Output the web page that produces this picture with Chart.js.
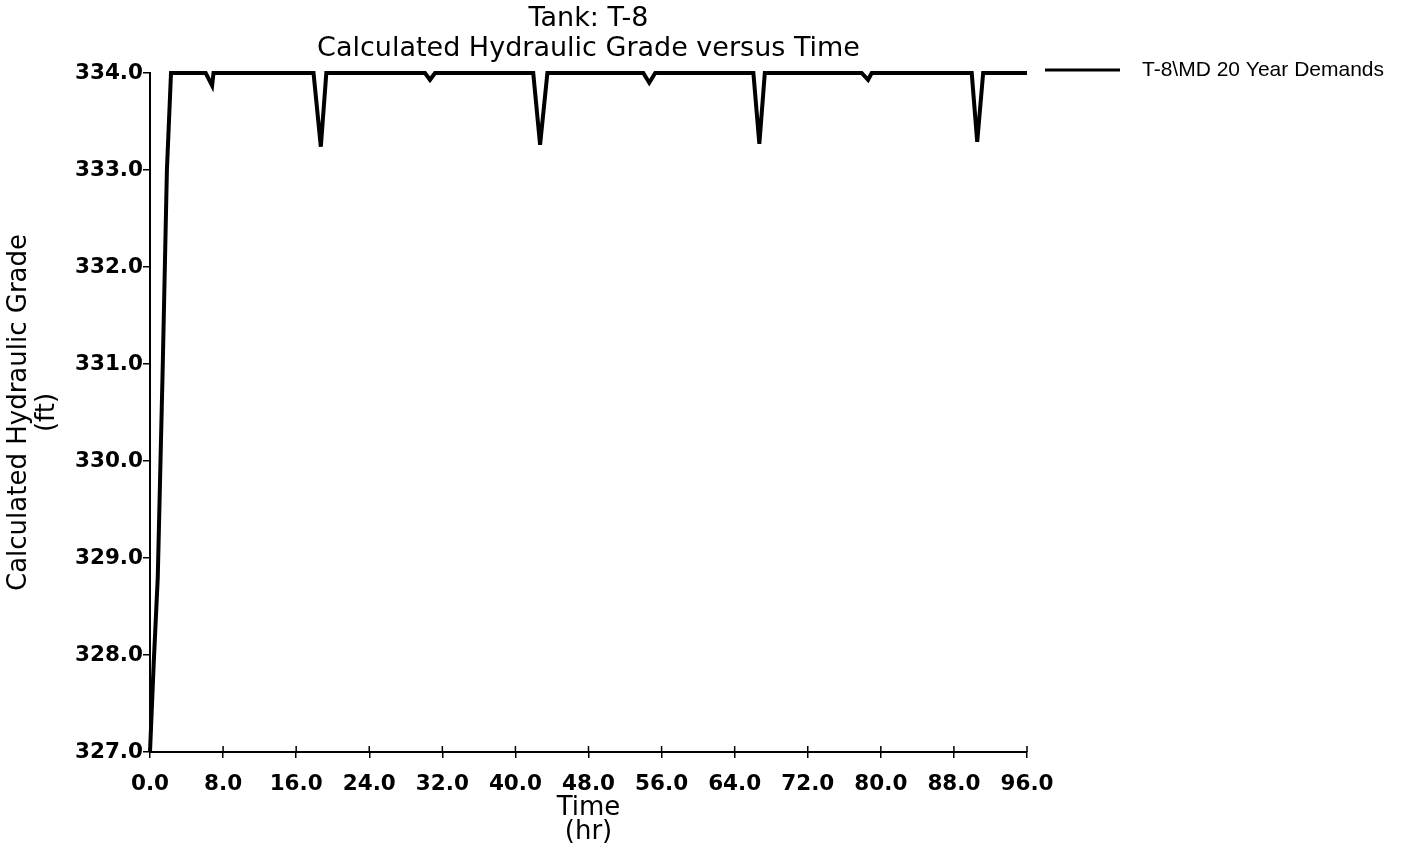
<!DOCTYPE html>
<html>
<head>
<meta charset="utf-8">
<script src="https://cdn.jsdelivr.net/npm/chart.js@4.4.1/dist/chart.umd.min.js"></script>
<style>
  html, body { margin: 0; padding: 0; background: #fff; }
  canvas { display: block; }
</style>
</head>
<body>
<canvas id="grade-chart" width="1417" height="852"></canvas>
<script>
const chartTitle = ['Tank: T-8', 'Calculated Hydraulic Grade versus Time'];
const seriesLabel = 'T-8\\MD 20 Year Demands';
const xTitle = ['Time', '(hr)'];
const yTitle = ['Calculated Hydraulic Grade', '(ft)'];

// time (hr) and hydraulic grade (ft) for the tank
const hours = [0.0, 0.4, 0.85, 1.4, 1.85, 2.3,
    6.1, 6.8, 6.95,
    17.9, 18.7, 19.3,
    30.1, 30.65, 31.2,
    41.95, 42.7, 43.5,
    54.0, 54.65, 55.3,
    66.05, 66.7, 67.3,
    77.9, 78.6, 79.0,
    89.95, 90.55, 91.2,
    96.0];
const grade = [327.0, 327.9, 328.8, 331.0, 333.0, 334.0,
    334.0, 333.87, 334.0,
    334.0, 333.24, 334.0,
    334.0, 333.93, 334.0,
    334.0, 333.26, 334.0,
    334.0, 333.9, 334.0,
    334.0, 333.27, 334.0,
    334.0, 333.93, 334.0,
    334.0, 333.29, 334.0,
    334.0];

const timeTicks = [0, 8, 16, 24, 32, 40, 48, 56, 64, 72, 80, 88, 96];
const gradeTicks = [327, 328, 329, 330, 331, 332, 333, 334];

const ink = '#000';
const tickFont = { family: 'DejaVu Sans', size: 21.5, weight: 'bold' };

// short tick marks poking up into the plot from the time axis
const innerTicks = {
    id: 'innerTicks',
    afterDraw(chart) {
        const { ctx, chartArea, scales } = chart;
        ctx.save();
        ctx.strokeStyle = ink;
        ctx.lineWidth = 1.5;
        timeTicks.forEach(t => {
            const x = scales.x.getPixelForValue(t);
            ctx.beginPath();
            ctx.moveTo(x, chartArea.bottom);
            ctx.lineTo(x, chartArea.bottom - 6);
            ctx.stroke();
        });
        ctx.restore();
    }
};

// legend to the right of the plot: line sample + series name
const sideLegend = {
    id: 'sideLegend',
    afterDraw(chart) {
        const { ctx } = chart;
        const ds = chart.data.datasets[0];
        ctx.save();
        ctx.strokeStyle = ds.borderColor;
        ctx.lineWidth = 3;
        ctx.beginPath();
        ctx.moveTo(1045, 70);
        ctx.lineTo(1120, 70);
        ctx.stroke();
        ctx.fillStyle = ink;
        ctx.font = '21px "Liberation Sans"';
        ctx.textBaseline = 'middle';
        ctx.fillText(ds.label, 1142, 70);
        ctx.restore();
    }
};

const setTicks = values => scale => {
    scale.ticks = values.map(v => ({ value: v }));
};

new Chart(document.getElementById('grade-chart'), {
    type: 'line',
    data: {
        datasets: [{
            label: seriesLabel,
            data: hours.map((h, i) => ({ x: h, y: grade[i] })),
            borderColor: ink,
            borderWidth: 4,
            pointRadius: 0,
            tension: 0,
            clip: false,
        }]
    },
    options: {
        responsive: false,
        animation: false,
        color: ink,
        layout: { padding: { left: 0, top: 0, right: 390, bottom: 0 } },
        plugins: {
            legend: { display: false },
            tooltip: { enabled: false },
            title: {
                display: true,
                fullSize: false,
                text: chartTitle,
                color: ink,
                font: { family: 'DejaVu Sans', size: 27, weight: 'normal', lineHeight: '30px' },
                padding: { top: 4, bottom: 9 },
            },
        },
        scales: {
            x: {
                type: 'linear',
                min: 0,
                max: 96,
                afterBuildTicks: setTicks(timeTicks),
                afterFit: scale => { scale.height = 100; },
                border: { display: true, color: ink, width: 2 },
                grid: { drawOnChartArea: false, drawTicks: true, tickLength: 6, color: ink, lineWidth: 1.5 },
                ticks: {
                    color: ink,
                    font: tickFont,
                    padding: 14,
                    maxRotation: 0,
                    autoSkip: false,
                    callback: v => v.toFixed(1),
                },
                title: {
                    display: true,
                    text: xTitle,
                    color: ink,
                    font: { family: 'DejaVu Sans', size: 26, lineHeight: '24px' },
                    padding: { top: 0, bottom: 8 },
                },
            },
            y: {
                type: 'linear',
                min: 327,
                max: 334,
                afterBuildTicks: setTicks(gradeTicks),
                afterFit: scale => { scale.width = 150; },
                border: { display: true, color: ink, width: 2 },
                grid: { drawOnChartArea: false, drawTicks: true, tickLength: 7, color: ink, lineWidth: 1.5 },
                ticks: {
                    color: ink,
                    font: tickFont,
                    padding: 0,
                    autoSkip: false,
                    callback: v => v.toFixed(1),
                },
                title: {
                    display: true,
                    text: yTitle,
                    color: ink,
                    font: { family: 'DejaVu Sans', size: 26, lineHeight: '28px' },
                    padding: { top: 5, bottom: 0 },
                },
            },
        },
    },
    plugins: [innerTicks, sideLegend],
});
</script>
</body>
</html>
